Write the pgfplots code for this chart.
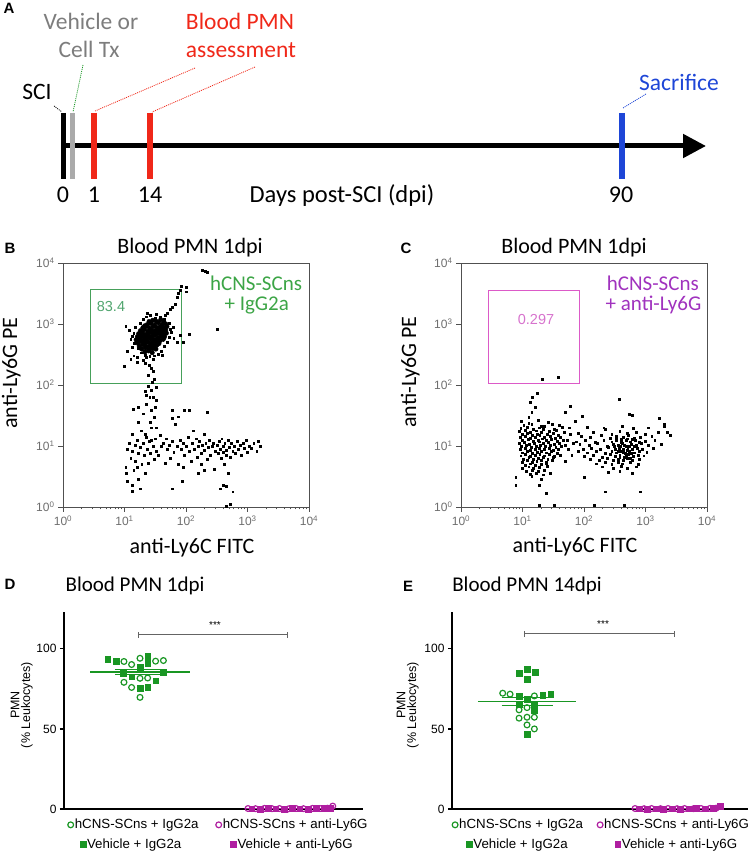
\documentclass[border=0pt]{standalone}
\usepackage{pgfplots}
\pgfplotsset{compat=1.18}
\usepackage{fontspec}
\setmainfont{Carlito}
\newfontfamily\arial{Liberation Sans}
\usetikzlibrary{arrows.meta}
\newcommand{\fs}[1]{\fontsize{#1}{#1}\selectfont}
\newcommand{\lgf}{\arial\fontsize{13.3}{15}\selectfont}
\definecolor{gtxt}{RGB}{60,165,70}
\definecolor{gbox}{RGB}{70,160,90}
\definecolor{gnum}{RGB}{80,165,110}
\definecolor{ptxt}{RGB}{160,50,190}
\definecolor{pbox}{RGB}{220,90,200}
\definecolor{pnum}{RGB}{215,115,205}
\definecolor{dgreen}{RGB}{25,150,35}
\definecolor{dmag}{RGB}{175,30,160}
\definecolor{tred}{RGB}{240,40,25}
\definecolor{tgray}{RGB}{125,125,125}
\definecolor{tblue}{RGB}{30,70,215}
\definecolor{bgray}{RGB}{170,170,170}
\definecolor{axgray}{RGB}{80,80,80}
\definecolor{tickgray}{RGB}{110,110,110}
\definecolor{brgray}{RGB}{100,100,100}
\pgfplotsset{
 flowaxis/.style={anchor=north west,scale only axis,width=246pt,height=244pt,
  xmin=0,xmax=4,ymin=0,ymax=4,
  axis line style={axgray,line width=0.9pt},
  xtick={0,1,2,3,4},ytick={0,1,2,3,4},
  xticklabels={10\textsuperscript{0},10\textsuperscript{1},10\textsuperscript{2},10\textsuperscript{3},10\textsuperscript{4}},
  yticklabels={10\textsuperscript{0},10\textsuperscript{1},10\textsuperscript{2},10\textsuperscript{3},10\textsuperscript{4}},
  minor xtick={0.301,0.477,0.602,0.699,0.778,0.845,0.903,0.954,1.301,1.477,1.602,1.699,1.778,1.845,1.903,1.954,2.301,2.477,2.602,2.699,2.778,2.845,2.903,2.954,3.301,3.477,3.602,3.699,3.778,3.845,3.903,3.954},
  tick align=outside, xtick pos=left, ytick pos=left,
  major tick length=5pt, minor tick length=2.5pt,
  tick style={axgray,line width=0.7pt},
  tick label style={font=\arial\fs{12},text=tickgray},
  clip=false},
 dots/.style={only marks,mark=square*,mark size=0.95pt,mark options={draw=none,fill=black}},
 core/.style={only marks,mark=*,mark size=2.3pt,mark options={draw=none,fill=black}},
 pmnaxis/.style={anchor=north west,scale only axis,height=197pt,ymin=0,ymax=123,
  axis x line=bottom,axis y line=left,axis line style={black,line width=1.8pt,-},
  xtick=\empty,ytick={0,50,100},tick align=outside,major tick length=4pt,
  tick style={black,line width=1.2pt},
  yticklabel style={font=\arial\fs{12}},
  /pgf/number format/assume math mode=true,
  clip=false,
  legend image code/.code={\draw[##1] plot coordinates {(0pt,0pt)};}},
 gcirc/.style={only marks,mark=o,mark size=2.9pt,dgreen,mark options={line width=1.2pt}},
 gsq/.style={only marks,mark=square*,mark size=2.9pt,dgreen},
 mcirc/.style={only marks,mark=o,mark size=2.9pt,dmag,mark options={line width=1.2pt}},
 msq/.style={only marks,mark=square*,mark size=2.9pt,dmag},
}
\begin{document}
\begin{tikzpicture}
\path[use as bounding box] (0,0) rectangle (752pt,853pt);
% ---------- overlay in pixel coordinates (panel A and texts) ----------
\begin{axis}[at={(0,0)},anchor=south west,scale only axis,width=752pt,height=853pt,
 xmin=0,xmax=752,ymin=0,ymax=853,y dir=reverse,hide axis,clip=false]
\addplot[black,line width=5pt,-{Triangle[length=23pt,width=23pt]}] coordinates {(63,146) (706,146)};
\addplot[black,line width=5.5pt] coordinates {(63.5,113) (63.5,179)};
\addplot[bgray,line width=5.5pt] coordinates {(72.7,113) (72.7,179)};
\addplot[tred,line width=5.5pt] coordinates {(94,113) (94,179)};
\addplot[tred,line width=5.5pt] coordinates {(150,113) (150,179)};
\addplot[tblue,line width=5.5pt] coordinates {(622,113) (622,179)};
\addplot[black,line width=0.8pt,dash pattern=on 1pt off 1pt] coordinates {(54,106) (62,112)};
\addplot[dgreen,line width=0.8pt,dash pattern=on 1pt off 1pt] coordinates {(83,65) (73,112)};
\addplot[tred,line width=0.8pt,dash pattern=on 1pt off 1pt] coordinates {(195,68) (95,111)};
\addplot[tred,line width=0.8pt,dash pattern=on 1pt off 1pt] coordinates {(255,67) (152,112)};
\addplot[tblue,line width=0.8pt,dash pattern=on 1pt off 1pt] coordinates {(646,94) (623,108)};
\node[anchor=base,font=\fs{23.5},text=tgray] at (axis cs:91,30) {Vehicle or};
\node[anchor=base,font=\fs{23.5},text=tgray] at (axis cs:89,58) {Cell Tx};
\node[anchor=base,font=\fs{23.5},text=tred] at (axis cs:240,30) {Blood PMN};
\node[anchor=base,font=\fs{23.5},text=tred] at (axis cs:241,58) {assessment};
\node[anchor=base,font=\fs{23.5}] at (axis cs:37,100) {SCI};
\node[anchor=base,font=\fs{23.5},text=tblue] at (axis cs:679,91) {Sacrifice};
\node[anchor=base,font=\fs{24}] at (axis cs:63,203) {0};
\node[anchor=base,font=\fs{24}] at (axis cs:94,203) {1};
\node[anchor=base,font=\fs{24}] at (axis cs:150,203) {14};
\node[anchor=base,font=\fs{24.5}] at (axis cs:342,203) {Days post-SCI (dpi)};
\node[anchor=base,font=\fs{24}] at (axis cs:621,203) {90};
% panel letters
\node[anchor=base,font=\arial\bfseries\fs{15}] at (axis cs:9,14) {A};
\node[anchor=base,font=\arial\bfseries\fs{15}] at (axis cs:10,253) {B};
\node[anchor=base,font=\arial\bfseries\fs{15}] at (axis cs:406,253) {C};
\node[anchor=base,font=\arial\bfseries\fs{15}] at (axis cs:10,589) {D};
\node[anchor=base,font=\arial\bfseries\fs{15}] at (axis cs:408,591) {E};
% titles and labels
\node[anchor=base,font=\fs{22}] at (axis cs:190,254) {Blood PMN 1dpi};
\node[anchor=base,font=\fs{22}] at (axis cs:574,254) {Blood PMN 1dpi};
\node[anchor=base,font=\fs{22}] at (axis cs:192,553) {anti-Ly6C FITC};
\node[anchor=base,font=\fs{22}] at (axis cs:575,552) {anti-Ly6C FITC};
\node[anchor=base,rotate=90,font=\fs{22}] at (axis cs:17,373) {anti-Ly6G PE};
\node[anchor=base,rotate=90,font=\fs{22}] at (axis cs:416,372) {anti-Ly6G PE};
\node[anchor=base,font=\fs{21}] at (axis cs:135,591) {Blood PMN 1dpi};
\node[anchor=base,font=\fs{21}] at (axis cs:527,591) {Blood PMN 14dpi};
\node[rotate=90,font=\arial\fs{12.5}] at (axis cs:15,705) {PMN};
\node[rotate=90,font=\arial\fs{12.5}] at (axis cs:27,705) {(\% Leukocytes)};
\node[rotate=90,font=\arial\fs{12.5}] at (axis cs:401,705) {PMN};
\node[rotate=90,font=\arial\fs{12.5}] at (axis cs:413,705) {(\% Leukocytes)};
\end{axis}
% ---------- panel B ----------
\begin{axis}[flowaxis,at={(63pt,590pt)}]
\addplot[core] coordinates {
(1.46,3.06)(1.52,3.04)(1.59,3.07)(1.64,3.03)
(1.37,2.99)(1.43,3.01)(1.49,2.98)(1.55,3.02)(1.61,2.99)(1.67,3.00)
(1.30,2.94)(1.35,2.96)(1.41,2.93)(1.47,2.96)(1.53,2.94)(1.58,2.95)(1.64,2.93)(1.69,2.96)
(1.26,2.89)(1.32,2.91)(1.38,2.88)(1.44,2.90)(1.50,2.89)(1.56,2.91)(1.61,2.88)(1.67,2.90)
(1.23,2.84)(1.29,2.86)(1.35,2.83)(1.40,2.85)(1.46,2.86)(1.52,2.84)(1.57,2.85)(1.63,2.83)(1.68,2.85)
(1.21,2.79)(1.27,2.81)(1.32,2.78)(1.38,2.80)(1.44,2.79)(1.49,2.81)(1.55,2.78)(1.60,2.80)(1.65,2.79)
(1.19,2.74)(1.25,2.76)(1.30,2.73)(1.36,2.75)(1.42,2.76)(1.47,2.74)(1.53,2.75)(1.58,2.73)(1.63,2.75)
(1.21,2.69)(1.27,2.71)(1.33,2.68)(1.39,2.70)(1.45,2.69)(1.50,2.71)(1.56,2.68)
(1.24,2.64)(1.30,2.66)(1.36,2.63)(1.42,2.65)(1.48,2.64)(1.53,2.66)
(1.28,2.59)(1.34,2.61)(1.40,2.58)(1.46,2.60)(1.51,2.59)
(1.33,2.54)(1.39,2.56)(1.45,2.53)
(1.33,2.97)(1.40,3.04)(1.29,2.81)(1.47,2.83)(1.35,2.71)(1.55,2.87)(1.43,2.62)(1.62,2.94)(1.25,2.72)(1.52,2.70)};
\addplot[dots] coordinates {
(1.05,2.55)(1.10,2.75)(1.12,2.62)(1.15,2.85)(1.08,2.90)(1.18,2.95)(1.15,2.48)(1.20,2.45)(1.25,3.02)(1.30,3.08)
(1.35,3.12)(1.42,3.14)(1.50,3.10)(1.58,3.12)(1.65,3.08)(1.72,3.02)(1.74,2.92)(1.76,2.86)(1.72,2.78)(1.69,2.70)
(1.64,2.63)(1.60,2.55)(1.55,2.51)(1.49,2.48)(1.41,2.47)(1.34,2.49)(1.27,2.53)(1.22,2.60)(1.16,2.69)(1.13,2.80)
(1.02,2.96)(1.00,2.31)(1.10,2.43)(1.21,2.38)(1.30,2.41)(1.46,2.43)(1.62,2.49)(1.80,2.76)(1.85,2.70)(2.05,2.84)
(1.95,2.70)(1.78,3.28)(1.82,3.33)(1.86,3.44)(1.90,3.55)(1.92,3.62)(2.00,3.61)(2.00,3.53)(1.88,3.50)(1.75,3.24)
(2.27,3.88)(2.31,3.87)(2.35,3.85)(2.51,2.92)(1.70,3.18)(1.37,3.18)(1.90,2.82)(1.52,3.16)(1.79,2.95)(1.66,3.14)
(1.35,2.46)(1.34,2.35)(1.43,2.27)(1.47,2.23)(1.39,2.16)(1.49,2.10)(1.45,2.05)(1.38,1.98)(1.51,1.97)(1.35,1.83)
(1.41,1.80)(1.46,1.80)(1.52,1.75)(1.36,1.69)(1.50,1.64)(1.43,1.58)(1.30,1.53)(1.42,1.39)(1.51,1.30)(1.34,1.20)
(1.43,1.10)(1.23,1.64)(1.22,1.39)(1.78,1.58)(1.97,1.58)(2.05,1.58)(1.78,1.45)(1.14,1.61)(1.40,2.32)(1.44,1.92)
(1.33,1.90)(1.48,1.47)
(1.02,0.65)(1.05,0.95)(1.08,1.05)(1.10,0.80)(1.12,1.20)(1.13,0.92)(1.15,0.60)(1.17,1.02)(1.18,0.75)(1.20,1.10)
(1.22,0.88)(1.22,0.45)(1.25,0.98)(1.27,1.25)(1.28,0.70)(1.30,1.05)(1.32,0.85)(1.33,0.55)(1.35,1.15)(1.37,0.95)
(1.38,0.72)(1.40,1.08)(1.42,0.88)(1.44,1.30)(1.46,1.00)(1.48,0.78)(1.50,1.12)(1.52,0.92)(1.12,0.35)(1.05,0.42)
(1.25,0.30)(1.12,0.26)(1.03,0.55)(1.20,0.65)
(1.55,0.85)(1.58,1.18)(1.60,0.99)(1.63,1.05)(1.66,0.72)(1.68,1.12)(1.70,0.95)(1.73,1.02)(1.75,0.80)(1.78,1.08)
(1.80,0.90)(1.82,1.35)(1.85,1.00)(1.87,0.70)(1.90,1.10)(1.92,0.95)(1.95,1.05)(1.97,0.85)(2.00,1.00)(2.03,1.15)
(2.05,0.92)(2.08,0.75)(2.10,1.05)(2.12,1.25)(2.14,0.95)(2.16,1.12)(2.18,0.82)(2.20,1.00)(2.22,1.08)(2.24,0.88)
(2.25,0.70)(2.27,1.02)(2.29,1.20)(2.30,0.93)(2.32,1.05)(2.34,0.78)(2.36,0.98)(2.38,1.10)(2.40,0.85)(2.42,1.00)
(2.44,1.05)(2.46,0.62)(2.48,0.92)(1.78,0.30)(1.94,0.43)(2.20,0.55)(2.30,0.60)(1.88,1.48)(1.95,0.65)(2.35,1.55)
(2.50,1.02)(2.52,0.88)(2.54,1.08)(2.55,0.95)(2.57,0.80)(2.58,1.12)(2.60,1.00)(2.61,0.90)(2.62,0.70)(2.63,1.05)
(2.65,0.93)(2.66,0.85)(2.68,1.10)(2.70,0.98)(2.72,0.82)(2.74,1.05)(2.76,0.92)(2.78,1.00)(2.80,0.88)(2.83,1.08)
(2.85,0.95)(2.88,1.02)(2.90,0.85)(2.93,1.05)(2.95,0.96)(2.98,1.10)(3.00,0.90)(3.03,1.00)(3.06,0.97)(3.10,1.05)
(3.15,0.92)(3.18,1.08)(3.20,1.00)(2.60,0.35)(2.65,0.34)(2.76,0.25)(2.65,0.02)(2.72,0.04)(2.55,0.30)(2.68,0.55)};
\addplot[gbox,line width=1pt] coordinates {(0.449,2.02)(1.919,2.02)(1.919,3.56)(0.449,3.56)(0.449,2.02)};
\node[font=\arial\fs{14.5},text=gnum] at (axis cs:0.78,3.28) {83.4};
\node[font=\fs{21},text=gtxt] at (axis cs:3.14,3.67) {hCNS-SCns};
\node[font=\fs{21},text=gtxt] at (axis cs:3.15,3.31) {+ IgG2a};
\end{axis}
% ---------- panel C ----------
\begin{axis}[flowaxis,at={(461pt,590pt)}]
\addplot[dots] coordinates {
(0.98,1.41)(1.10,1.38)(1.25,1.43)(1.42,1.39)
(1.02,1.34)(1.15,1.36)(1.30,1.33)(1.48,1.36)(1.60,1.34)
(0.97,1.29)(1.08,1.31)(1.18,1.28)(1.27,1.30)(1.36,1.32)(1.52,1.28)(1.65,1.31)
(0.95,1.24)(1.04,1.26)(1.12,1.23)(1.22,1.25)(1.33,1.27)(1.44,1.24)(1.55,1.26)(1.68,1.23)
(1.00,1.19)(1.07,1.21)(1.16,1.18)(1.24,1.20)(1.31,1.22)(1.40,1.19)(1.50,1.21)(1.58,1.18)
(0.96,1.14)(1.05,1.16)(1.13,1.13)(1.20,1.15)(1.28,1.17)(1.36,1.14)(1.45,1.16)(1.53,1.13)(1.62,1.15)
(0.99,1.09)(1.09,1.11)(1.17,1.08)(1.25,1.10)(1.32,1.12)(1.39,1.09)(1.47,1.11)(1.56,1.08)(1.66,1.10)
(0.95,1.04)(1.03,1.06)(1.11,1.03)(1.19,1.05)(1.27,1.07)(1.34,1.04)(1.42,1.06)(1.51,1.03)(1.60,1.05)
(0.98,0.99)(1.06,1.01)(1.14,0.98)(1.22,1.00)(1.29,1.02)(1.37,0.99)(1.45,1.01)(1.54,0.98)(1.63,1.00)(1.70,1.02)
(0.96,0.94)(1.04,0.96)(1.12,0.93)(1.20,0.95)(1.27,0.97)(1.35,0.94)(1.43,0.96)(1.50,0.93)(1.58,0.95)
(1.00,0.89)(1.08,0.91)(1.16,0.88)(1.24,0.90)(1.31,0.92)(1.39,0.89)(1.47,0.91)(1.56,0.88)
(0.97,0.84)(1.05,0.86)(1.13,0.83)(1.21,0.85)(1.28,0.87)(1.36,0.84)(1.44,0.86)(1.52,0.83)(1.62,0.85)
(1.01,0.79)(1.10,0.81)(1.18,0.78)(1.26,0.80)(1.33,0.82)(1.41,0.79)(1.50,0.81)
(0.99,0.74)(1.07,0.76)(1.16,0.73)(1.23,0.75)(1.31,0.77)(1.39,0.74)(1.48,0.76)
(1.04,0.69)(1.13,0.71)(1.21,0.68)(1.30,0.70)(1.38,0.72)
(1.00,0.64)(1.10,0.66)(1.18,0.63)(1.27,0.65)(1.40,0.67)
(1.06,0.59)(1.16,0.61)(1.25,0.58)(1.35,0.60)
(1.12,0.54)(1.22,0.56)(1.33,0.53)(1.45,0.55)(1.30,0.45)(1.15,0.50)
(1.72,1.10)(1.75,0.95)(1.78,1.20)(1.80,0.85)(1.83,1.05)(1.76,1.30)(1.85,1.40)(1.70,0.75)
(2.05,1.31)(2.35,1.28)(2.62,1.32)(2.80,1.29)(3.05,1.30)(3.30,1.33)
(1.90,1.21)(2.15,1.23)(2.45,1.20)(2.58,1.24)(2.70,1.21)(2.85,1.23)(3.00,1.20)(3.20,1.22)
(1.95,1.16)(2.10,1.14)(2.28,1.17)(2.42,1.13)(2.52,1.16)(2.63,1.14)(2.72,1.17)(2.82,1.13)(2.92,1.15)(3.10,1.16)
(1.88,1.07)(2.02,1.09)(2.18,1.06)(2.32,1.10)(2.45,1.07)(2.53,1.09)(2.60,1.06)(2.68,1.10)(2.75,1.07)(2.83,1.09)(2.90,1.06)(3.00,1.08)(3.15,1.10)
(1.93,1.03)(2.08,1.01)(2.22,1.04)(2.38,1.00)(2.48,1.03)(2.55,1.01)(2.62,1.04)(2.69,1.00)(2.77,1.03)(2.85,1.01)(2.93,1.04)(3.05,1.02)(3.25,1.03)
(1.98,0.95)(2.12,0.97)(2.27,0.94)(2.40,0.98)(2.50,0.95)(2.57,0.97)(2.64,0.94)(2.71,0.98)(2.78,0.95)(2.86,0.97)(2.95,0.94)(3.12,0.96)
(1.90,0.91)(2.05,0.89)(2.20,0.92)(2.35,0.88)(2.45,0.91)(2.53,0.89)(2.60,0.92)(2.67,0.88)(2.74,0.91)(2.82,0.89)(2.90,0.92)(3.02,0.90)
(2.00,0.83)(2.15,0.85)(2.30,0.82)(2.42,0.86)(2.50,0.83)(2.58,0.85)(2.65,0.82)(2.72,0.86)(2.80,0.83)(2.88,0.85)(2.97,0.84)
(2.10,0.79)(2.25,0.77)(2.38,0.80)(2.47,0.76)(2.55,0.79)(2.63,0.77)(2.70,0.80)(2.78,0.76)(2.90,0.78)
(2.20,0.71)(2.35,0.73)(2.45,0.70)(2.55,0.74)(2.62,0.71)(2.75,0.73)(2.88,0.70)
(2.30,0.66)(2.48,0.64)(2.60,0.67)(2.70,0.63)(2.85,0.66)
(2.40,0.57)(2.58,0.59)(2.78,0.56)
(2.49,0.99)(2.59,1.00)(2.66,1.02)(2.73,0.99)(2.81,0.99)(2.56,0.92)(2.63,0.90)(2.70,0.93)(2.77,0.88)(2.52,1.12)
(2.61,1.11)(2.70,1.12)(2.79,1.11)(2.58,0.81)(2.68,0.84)(2.75,0.80)
(1.32,2.09)(1.58,2.13)(1.24,1.87)(1.16,1.80)(1.21,1.63)(1.12,1.72)(2.57,1.77)(2.73,1.52)(2.78,1.50)(0.89,0.49)
(0.89,0.36)(1.27,0.36)(1.38,0.22)(1.27,0.03)(1.52,0.03)(2.00,0.49)(2.35,0.25)(2.17,0.03)(2.66,0.03)(2.92,0.25)
(3.35,1.23)(3.40,1.18)(1.78,1.65)(1.97,1.49)(1.15,1.55)(1.70,1.55)(1.10,1.47)(2.32,1.30)(3.22,1.45)(3.30,1.35)};
\addplot[pbox,line width=1pt] coordinates {(0.449,2.02)(1.919,2.02)(1.919,3.55)(0.449,3.55)(0.449,2.02)};
\node[font=\arial\fs{14.5},text=pnum] at (axis cs:1.22,3.08) {0.297};
\node[font=\fs{21},text=ptxt] at (axis cs:3.12,3.67) {hCNS-SCns};
\node[font=\fs{21},text=ptxt] at (axis cs:3.13,3.31) {+ anti-Ly6G};
\end{axis}
% ---------- panel D ----------
\begin{axis}[pmnaxis,at={(64pt,241pt)},width=299pt,xmin=0.4933,xmax=2.4867,
 legend columns=2,
 legend style={at={(axis description cs:0.012,-0.045)},anchor=north west,draw=none,fill=none,inner sep=0pt,
  nodes={inner sep=1.2pt},/tikz/every even column/.append style={column sep=16pt}}]
\addplot[gcirc] coordinates {(0.893,92.1)(0.944,90.2)(1.0,94.1)(1.104,92.3)(1.156,92.7)(0.893,79.1)(0.944,75.9)(1.0,81.6)(1.051,81.8)(1.0,69.7)};
\addlegendentry{\lgf hCNS-SCns + IgG2a}
\addplot[mcirc] coordinates {(1.72,0.3)(1.77,0.2)(1.83,0.4)(1.88,0.2)(1.93,0.3)(1.99,0.1)(2.04,0.3)(2.09,0.2)(2.15,0.4)(2.20,0.3)(2.25,0.5)(2.285,1.8)};
\addlegendentry{\lgf hCNS-SCns + anti-Ly6G}
\addplot[gsq,forget plot] coordinates {(0.785,93.7)(0.84,92.3)(1.051,95.4)(1.051,91.2)(0.889,84.9)(0.944,82.6)(1.0,88.5)(1.156,85.4)(1.0,75.3)(1.051,75.9)(1.104,80.1)};
\addplot[msq,forget plot] coordinates {(1.745,0.2)(1.80,0.1)(1.855,0.3)(1.905,0.2)(1.96,0.1)(2.015,0.3)(2.065,0.2)(2.12,0.1)(2.175,0.4)(2.225,0.3)(2.27,0.6)};
\addplot[dgreen,line width=1.2pt,forget plot] coordinates {(0.667,85.5)(1.333,85.5)};
\addplot[dgreen,line width=1pt,forget plot] coordinates {(0.833,87.0)(1.167,87.0)};
\addplot[dgreen,line width=1pt,forget plot] coordinates {(0.833,84.0)(1.167,84.0)};
\addplot[dmag,line width=1.2pt,forget plot] coordinates {(1.70,0.5)(2.30,0.5)};
\addplot[brgray,line width=0.8pt,forget plot] coordinates {(0.987,108.75)(1.98,108.75)};
\addplot[brgray,line width=0.8pt,forget plot] coordinates {(0.987,106.9)(0.987,110.6)};
\addplot[brgray,line width=0.8pt,forget plot] coordinates {(1.98,106.9)(1.98,110.6)};
\node[font=\arial\fs{10}] at (axis cs:1.5,115) {***};
\end{axis}
\begin{axis}[at={(64pt,241pt)},anchor=north west,scale only axis,width=299pt,height=197pt,hide axis,
 xmin=0,xmax=1,ymin=0,ymax=1,legend columns=2,
 legend image code/.code={\draw[#1] plot coordinates {(0pt,0pt)};},
 legend style={at={(axis description cs:0.053,-0.143)},anchor=north west,draw=none,fill=none,inner sep=0pt,
  nodes={inner sep=1.2pt},/tikz/every even column/.append style={column sep=48pt}}]
\addlegendimage{gsq}
\addlegendentry{\lgf Vehicle + IgG2a}
\addlegendimage{msq}
\addlegendentry{\lgf Vehicle + anti-Ly6G}
\end{axis}
% ---------- panel E ----------
\begin{axis}[pmnaxis,at={(452pt,241pt)},width=296pt,xmin=0.5,xmax=2.473,
 legend columns=2,
 legend style={at={(axis description cs:0.0,-0.045)},anchor=north west,draw=none,fill=none,inner sep=0pt,
  nodes={inner sep=1.2pt},/tikz/every even column/.append style={column sep=13pt}}]
\addplot[gcirc] coordinates {(0.838,72.3)(0.887,71.7)(1.049,70.6)(0.947,61.9)(1.0,63.3)(0.947,56.7)(1.0,57.3)(1.049,57.3)(1.0,52.5)(1.049,50.0)};
\addlegendentry{\lgf hCNS-SCns + IgG2a}
\addplot[mcirc] coordinates {(1.72,0.3)(1.78,0.2)(1.83,0.3)(1.89,0.2)(1.94,0.3)(2.00,0.2)(2.05,0.3)(2.11,0.2)(2.16,0.3)(2.22,0.4)(2.26,0.5)};
\addlegendentry{\lgf hCNS-SCns + anti-Ly6G}
\addplot[gsq,forget plot] coordinates {(0.947,84.9)(1.0,87.4)(1.056,85.4)(1.0,81.2)(0.947,70.6)(1.0,68.6)(1.105,71.1)(1.158,71.7)(0.947,65.6)(1.049,65.6)(1.049,61.5)(1.0,46.9)};
\addplot[msq,forget plot] coordinates {(1.75,0.2)(1.80,0.1)(1.86,0.2)(1.91,0.1)(1.97,0.2)(2.02,0.1)(2.08,0.2)(2.13,0.3)(2.19,0.2)(2.24,0.4)(2.287,1.6)};
\addplot[dgreen,line width=1.2pt,forget plot] coordinates {(0.673,67.3)(1.327,67.3)};
\addplot[dgreen,line width=1pt,forget plot] coordinates {(0.83,69.7)(1.17,69.7)};
\addplot[dgreen,line width=1pt,forget plot] coordinates {(0.83,64.9)(1.17,64.9)};
\addplot[dmag,line width=1.2pt,forget plot] coordinates {(1.70,0.4)(2.30,0.4)};
\addplot[brgray,line width=0.8pt,forget plot] coordinates {(0.98,109.4)(1.98,109.4)};
\addplot[brgray,line width=0.8pt,forget plot] coordinates {(0.98,107.5)(0.98,111.3)};
\addplot[brgray,line width=0.8pt,forget plot] coordinates {(1.98,107.5)(1.98,111.3)};
\node[font=\arial\fs{10}] at (axis cs:1.507,115.5) {***};
\end{axis}
\begin{axis}[at={(452pt,241pt)},anchor=north west,scale only axis,width=296pt,height=197pt,hide axis,
 xmin=0,xmax=1,ymin=0,ymax=1,legend columns=2,
 legend image code/.code={\draw[#1] plot coordinates {(0pt,0pt)};},
 legend style={at={(axis description cs:0.048,-0.143)},anchor=north west,draw=none,fill=none,inner sep=0pt,
  nodes={inner sep=1.2pt},/tikz/every even column/.append style={column sep=46pt}}]
\addlegendimage{gsq}
\addlegendentry{\lgf Vehicle + IgG2a}
\addlegendimage{msq}
\addlegendentry{\lgf Vehicle + anti-Ly6G}
\end{axis}
\end{tikzpicture}
\end{document}
